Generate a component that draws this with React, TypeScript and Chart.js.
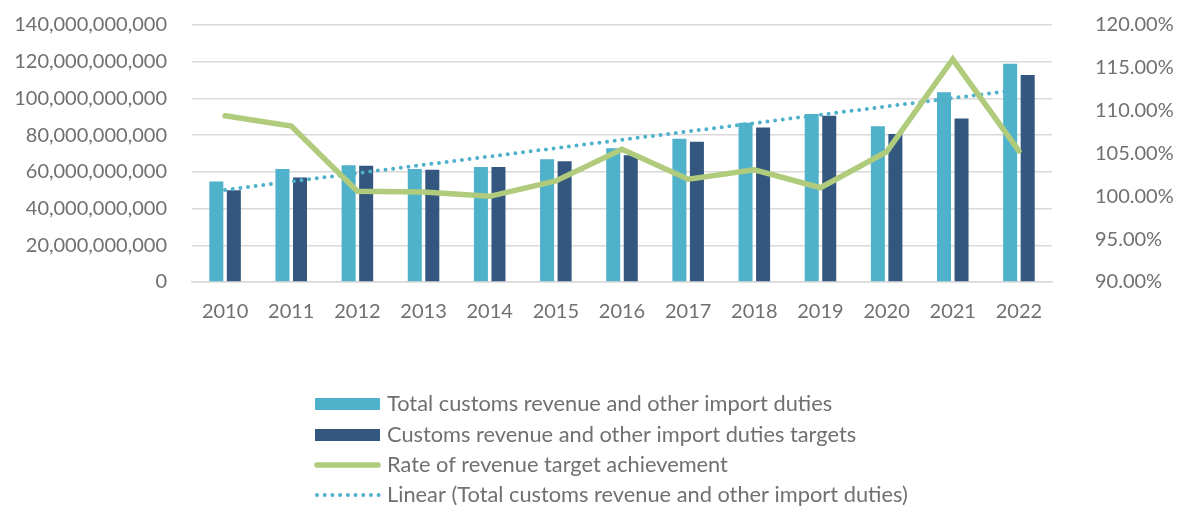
import React, { useEffect, useRef } from "react";
import { Chart, registerables } from "chart.js";

Chart.register(...registerables);

const years = ["2010", "2011", "2012", "2013", "2014", "2015", "2016", "2017", "2018", "2019", "2020", "2021", "2022"];
const totalRevenue = [54.8e9, 61.5e9, 63.6e9, 61.5e9, 62.7e9, 66.9e9, 72.8e9, 78.0e9, 86.7e9, 91.5e9, 84.8e9, 103.3e9, 118.9e9];
const revenueTargets = [50.0e9, 56.9e9, 63.3e9, 61.1e9, 62.7e9, 65.8e9, 69.1e9, 76.4e9, 84.2e9, 90.5e9, 80.6e9, 89.1e9, 112.7e9];
const achievementRate = [109.4, 108.2, 100.6, 100.5, 100.0, 101.8, 105.5, 102.0, 103.1, 101.0, 105.2, 116.0, 105.3];
const seriesLabels = [
  "Total customs revenue and other import duties",
  "Customs revenue and other import duties targets",
  "Rate of revenue target achievement",
  "Linear (Total customs revenue and other import duties)",
];

const LIGHT = "#4FB1CA";
const DARK = "#34577F";
const GREEN = "#AFCB7B";
const TEXT = "#707070";
const GRID = "#D9D9D9";
const FONT = "Lato";

// Linear (least squares) trendline of the total revenue series, as Excel draws it
function linearTrend(values: number[]): number[] {
  const n = values.length;
  const mx = (n - 1) / 2;
  const my = values.reduce((a, b) => a + b, 0) / n;
  let sxy = 0;
  let sxx = 0;
  values.forEach((v, i) => {
    sxy += (i - mx) * (v - my);
    sxx += (i - mx) * (i - mx);
  });
  const slope = sxy / sxx;
  return values.map((_, i) => my + slope * (i - mx));
}

const legendPlugin = {
  id: "stackedLegend",
  afterDraw(chart: any) {
    const ctx = chart.ctx as CanvasRenderingContext2D;
    const x0 = 315;
    const x1 = 380;
    const textX = 387;
    const rows = [404, 435, 465, 495];
    ctx.save();
    ctx.font = `21.8px ${FONT}`;
    ctx.textBaseline = "middle";
    ctx.textAlign = "left";
    rows.forEach((cy, i) => {
      if (i === 0 || i === 1) {
        ctx.fillStyle = i === 0 ? LIGHT : DARK;
        ctx.fillRect(x0, cy - 6, x1 - x0, 12);
      } else if (i === 2) {
        ctx.strokeStyle = GREEN;
        ctx.lineWidth = 5.5;
        ctx.lineCap = "round";
        ctx.setLineDash([]);
        ctx.beginPath();
        ctx.moveTo(x0 + 2, cy);
        ctx.lineTo(x1 - 2, cy);
        ctx.stroke();
      } else {
        ctx.strokeStyle = LIGHT;
        ctx.lineWidth = 4;
        ctx.lineCap = "round";
        ctx.setLineDash([0, 7.7]);
        ctx.beginPath();
        ctx.moveTo(x0 + 2, cy);
        ctx.lineTo(x1, cy);
        ctx.stroke();
        ctx.setLineDash([]);
      }
      ctx.fillStyle = TEXT;
      ctx.fillText(seriesLabels[i], textX, cy);
    });
    ctx.restore();
  },
};

export default function App() {
  const ref = useRef<HTMLCanvasElement | null>(null);

  useEffect(() => {
    document.body.style.margin = "0";
    if (!ref.current) return;
    const trend = linearTrend(totalRevenue);
    const chart = new Chart(ref.current, {
      data: {
        labels: years,
        datasets: [
          {
            type: "line",
            label: seriesLabels[2],
            data: achievementRate,
            yAxisID: "y1",
            borderColor: GREEN,
            backgroundColor: GREEN,
            borderWidth: 5.5,
            pointRadius: 0,
            borderJoinStyle: "miter",
            borderCapStyle: "round",
            tension: 0,
            order: 0,
          },
          {
            type: "line",
            label: seriesLabels[3],
            data: trend,
            yAxisID: "y",
            borderColor: LIGHT,
            borderWidth: 4,
            borderDash: [0, 7.7],
            borderCapStyle: "round",
            pointRadius: 0,
            order: 1,
          },
          {
            type: "bar",
            label: seriesLabels[0],
            data: totalRevenue,
            yAxisID: "y",
            backgroundColor: LIGHT,
            categoryPercentage: 0.53,
            barPercentage: 0.8,
            order: 2,
          },
          {
            type: "bar",
            label: seriesLabels[1],
            data: revenueTargets,
            yAxisID: "y",
            backgroundColor: DARK,
            categoryPercentage: 0.53,
            barPercentage: 0.8,
            order: 3,
          },
        ],
      } as any,
      options: {
        responsive: false,
        animation: false,
        devicePixelRatio: 1,
        layout: { padding: { top: 25, left: 0, right: 0, bottom: 0 } },
        plugins: {
          legend: { display: false },
          tooltip: { enabled: false },
        },
        scales: {
          x: {
            type: "category",
            grid: { display: false, drawTicks: false },
            border: { display: true, color: GRID, width: 1.5 },
            ticks: { color: TEXT, font: { family: FONT, size: 20 }, padding: 18, maxRotation: 0 },
            afterFit: (s: any) => {
              s.height = 224;
              s.paddingLeft = 0;
              s.paddingRight = 0;
            },
          },
          y: {
            position: "left",
            min: 0,
            max: 140e9,
            grid: { color: GRID, lineWidth: 1.5, drawTicks: false },
            border: { display: false },
            ticks: {
              stepSize: 20e9,
              color: TEXT,
              font: { family: FONT, size: 20 },
              padding: 25,
              callback: (v: any) => Number(v).toLocaleString("en-US"),
            },
            afterFit: (s: any) => {
              s.width = 192;
              s.paddingTop = 0;
              s.paddingBottom = 0;
            },
          },
          y1: {
            position: "right",
            min: 90,
            max: 120,
            grid: { display: false, drawTicks: false },
            border: { display: false },
            ticks: {
              stepSize: 5,
              color: TEXT,
              font: { family: FONT, size: 20 },
              padding: 43,
              callback: (v: any) => Number(v).toFixed(2) + "%",
            },
            afterFit: (s: any) => {
              s.width = 125;
              s.paddingTop = 0;
              s.paddingBottom = 0;
            },
          },
        },
      } as any,
      plugins: [legendPlugin],
    });
    return () => chart.destroy();
  }, []);

  return (
    <div style={{ width: 1177, height: 506, background: "#fff" }}>
      <canvas ref={ref} width={1177} height={506} style={{ display: "block" }} />
    </div>
  );
}
